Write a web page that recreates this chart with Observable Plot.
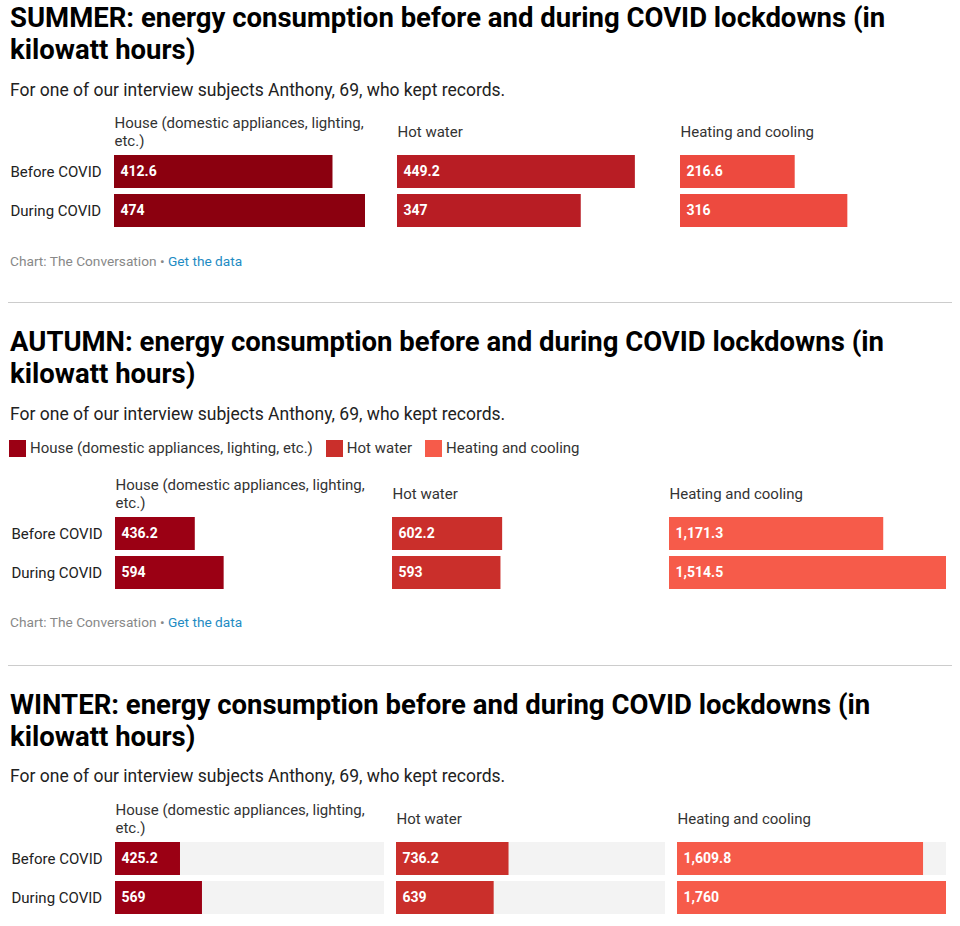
<!DOCTYPE html>
<html>
<head>
<meta charset="utf-8">
<script src="https://cdn.jsdelivr.net/npm/d3@7"></script>
<script src="https://cdn.jsdelivr.net/npm/@observablehq/plot@0.6"></script>
<style>
  html, body { margin: 0; padding: 0; background: #fff; }
  body { font-family: Roboto, "Noto Sans", sans-serif; }
  #page { position: relative; width: 960px; height: 926px; overflow: hidden; }
  .abs { position: absolute; left: 10px; white-space: nowrap; }
  .title { font-size: 27.5px; line-height: 32px; font-weight: 700; color: #000; white-space: normal; width: 935px; }
  .sub { font-size: 17.5px; line-height: 20px; color: #222; }
  .foot { font-size: 13.7px; line-height: 16px; color: #888; }
  .foot a { color: #1e8bc3; text-decoration: none; }
  .sep { position: absolute; left: 8px; width: 944px; height: 0; border-top: 1px solid #ccc; }
  .chart { position: absolute; left: 0; }
  .lg-swatches { font-family: Roboto, sans-serif !important; font-size: 15px !important; color: #333 !important; min-height: 20px !important; margin: 0 !important; }
  .lg-swatch { margin-right: 13px !important; }
  .lg-swatch > svg { margin-right: 4px !important; }
</style>
</head>
<body>
<div id="page"></div>
<script>
// ---- data ----
const categories = ["House (domestic appliances, lighting, etc.)", "Hot water", "Heating and cooling"];
const periods = ["Before COVID", "During COVID"];
const seasonNames = ["SUMMER", "AUTUMN", "WINTER"];

const summerBefore = [412.6, 449.2, 216.6];
const summerDuring = [474, 347, 316];
const autumnBefore = [436.2, 602.2, 1171.3];
const autumnDuring = [594, 593, 1514.5];
const winterBefore = [425.2, 736.2, 1609.8];
const winterDuring = [569, 639, 1760];

const summerColors = ["#8b000f", "#b81d24", "#ed4a3f"];
const autumnColors = ["#9b0014", "#ca2f2b", "#f65b4a"];
const winterColors = ["#9b0014", "#ca2f2b", "#f65b4a"];

const subtitleText = "For one of our interview subjects Anthony, 69, who kept records.";
const titleSuffix = ": energy consumption before and during COVID lockdowns (in kilowatt hours)";

// ---- helpers ----
const page = document.getElementById("page");
function addDiv(cls, top, html) {
  const d = document.createElement("div");
  d.className = cls;
  d.style.top = top + "px";
  d.innerHTML = html;
  page.appendChild(d);
  return d;
}

function makeChart(before, during, colors, {marginRight, paddingInner, background}) {
  const rows = categories.flatMap((c, i) => [
    {cat: c, period: periods[0], value: before[i]},
    {cat: c, period: periods[1], value: during[i]}
  ]);
  const xmax = d3.max(rows, d => d.value);
  const marks = [];
  if (background) {
    marks.push(Plot.barX(rows, {fx: "cat", y: "period", x1: 0, x2: xmax, fill: "#f3f3f3"}));
  }
  marks.push(
    Plot.barX(rows, {fx: "cat", y: "period", x: "value", fill: "cat"}),
    Plot.text(rows, {
      fx: "cat", y: "period", x: 0, dx: 6,
      text: d => d3.format(",")(d.value),
      textAnchor: "start", fill: "white", fontWeight: "bold", fontSize: 14
    }),
    Plot.text(categories, {
      fx: d => d, text: d => d,
      frameAnchor: "top-left", dy: -24, lineAnchor: "middle", textAnchor: "start",
      lineWidth: 19, lineHeight: 1.2, fontSize: 15, fill: "#333"
    }),
    Plot.axisY({tickSize: 0, tickPadding: 0, dx: -104, textAnchor: "start", fontSize: 15, fill: "#222", label: null})
  );
  return Plot.plot({
    width: 960,
    height: 125,
    marginTop: 45,
    marginBottom: 8,
    marginLeft: 114,
    marginRight,
    style: {fontFamily: "Roboto, sans-serif", fontSize: "15px", color: "#222", background: "transparent", overflow: "visible"},
    fx: {domain: categories, paddingInner, paddingOuter: 0, axis: null, label: null},
    x: {domain: [0, xmax], axis: null},
    y: {domain: periods, paddingInner: 6 / 39, paddingOuter: 0, label: null},
    color: {domain: categories, range: colors},
    marks
  });
}

function addChart(top, chart) {
  chart.classList.add("chart");
  chart.style.position = "absolute";
  chart.style.top = top + "px";
  chart.style.left = "0px";
  page.appendChild(chart);
}

const footHTML = 'Chart: The Conversation • <a href="#">Get the data</a>';

// ---- SUMMER ----
addDiv("abs title", 2, seasonNames[0] + titleSuffix);
addDiv("abs sub", 80, subtitleText);
addChart(110, makeChart(summerBefore, summerDuring, summerColors, {marginRight: 29, paddingInner: 32 / 283}));
addDiv("abs foot", 253, footHTML);
addDiv("sep", 302, "");

// ---- AUTUMN ----
addDiv("abs title", 326, seasonNames[1] + titleSuffix);
addDiv("abs sub", 404, subtitleText);
const legend = Plot.legend({
  color: {type: "ordinal", domain: categories, range: autumnColors},
  swatchWidth: 17, swatchHeight: 17, className: "lg"
});
const lgWrap = addDiv("abs", 438, "");
lgWrap.style.left = "9px";
lgWrap.appendChild(legend);
addChart(472, makeChart(autumnBefore, autumnDuring, autumnColors, {marginRight: 14, paddingInner: 0}));
addDiv("abs foot", 614, footHTML);
addDiv("sep", 665, "");

// ---- WINTER ----
addDiv("abs title", 689, seasonNames[2] + titleSuffix);
addDiv("abs sub", 766, subtitleText);
addChart(797, makeChart(winterBefore, winterDuring, winterColors, {marginRight: 14, paddingInner: 3 - 832 / 281.5, background: true}));
</script>
</body>
</html>
